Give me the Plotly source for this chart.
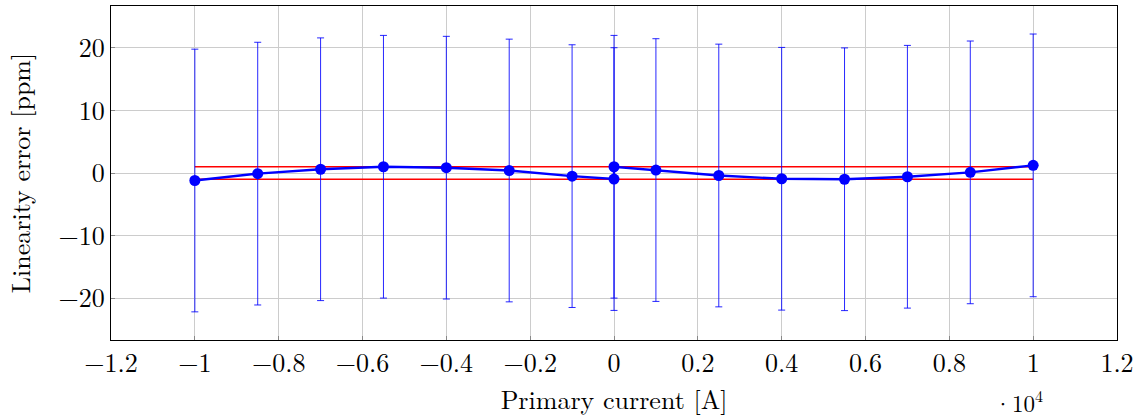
import plotly.graph_objects as go

# Data
current = [-10000, -8500, -7000, -5500, -4000, -2500, -1000, 0, 0, 1000, 2500, 4000, 5500, 7000, 8500, 10000]
lin_error = [-1.2, -0.1, 0.6, 1.0, 0.85, 0.4, -0.5, -0.97, 1.0, 0.47, -0.4, -0.92, -1.0, -0.6, 0.1, 1.22]
err = [21.0, 21.0, 21.0, 21.0, 21.0, 21.0, 21.0, 21.0, 21.0, 21.0, 21.0, 21.0, 21.0, 21.0, 21.0, 21.0]
limit_x = [-10000, 10000]
limit_upper = [1.0, 1.0]
limit_lower = [-1.0, -1.0]

x_tickvals = [-12000, -10000, -8000, -6000, -4000, -2000, 0, 2000, 4000, 6000, 8000, 10000, 12000]
x_ticktext = ["\u22121.2", "\u22121", "\u22120.8", "\u22120.6", "\u22120.4", "\u22120.2", "0", "0.2", "0.4", "0.6", "0.8", "1", "1.2"]
y_tickvals = [-20, -10, 0, 10, 20]
y_ticktext = ["\u221220", "\u221210", "0", "10", "20"]

FONT = "Latin Modern Roman, CMU Serif, Liberation Serif, serif"
FS = 26

fig = go.Figure()
fig.add_trace(go.Scatter(x=limit_x, y=limit_upper, mode="lines",
                         line=dict(color="#ff0000", width=1.6), showlegend=False))
fig.add_trace(go.Scatter(x=limit_x, y=limit_lower, mode="lines",
                         line=dict(color="#ff0000", width=1.6), showlegend=False))
fig.add_trace(go.Scatter(
    x=current, y=lin_error, mode="lines+markers",
    line=dict(color="#0000ff", width=2.4),
    marker=dict(color="#0000ff", size=11, symbol="circle"),
    error_y=dict(type="data", array=err, visible=True, color="rgba(0,0,255,0.85)",
                 thickness=1, width=3.5),
    showlegend=False))

fig.update_layout(
    width=1148, height=418,
    margin=dict(l=111, r=31, t=6, b=78),
    paper_bgcolor="white", plot_bgcolor="white",
    font=dict(family=FONT, size=FS, color="black"),
    xaxis=dict(range=[-12000, 12000], tickvals=x_tickvals, ticktext=x_ticktext,
               showgrid=True, gridcolor="#cccccc", gridwidth=1,
               showline=True, linecolor="black", linewidth=1, mirror=True,
               ticks="inside", ticklen=4, tickcolor="#888888", zeroline=False,
               tickfont=dict(family=FONT, size=FS),
               title=dict(text="Primary current [A]", standoff=10,
                          font=dict(family=FONT, size=FS))),
    yaxis=dict(range=[-26.7, 26.7], tickvals=y_tickvals, ticktext=y_ticktext,
               showgrid=True, gridcolor="#cccccc", gridwidth=1,
               showline=True, linecolor="black", linewidth=1, mirror=True,
               ticks="inside", ticklen=4, tickcolor="#888888", zeroline=False,
               tickfont=dict(family=FONT, size=FS),
               title=dict(text="Linearity error [ppm]", standoff=20,
                          font=dict(family=FONT, size=FS))),
    annotations=[dict(text="\u00b710<sup>4</sup>", xref="paper", yref="paper",
                      x=0.876, y=-0.185, xanchor="left", yanchor="middle",
                      showarrow=False, font=dict(family=FONT, size=23))],
)

fig.write_html("out.html")
